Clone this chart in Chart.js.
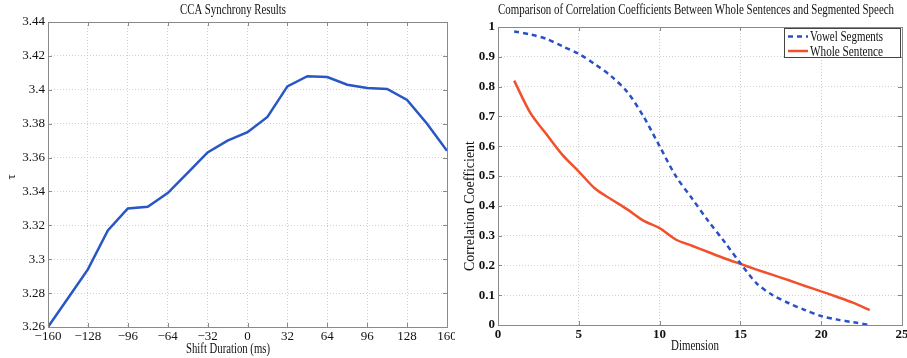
<!DOCTYPE html>
<html>
<head>
<meta charset="utf-8">
<script src="https://cdn.jsdelivr.net/npm/chart.js@4/dist/chart.umd.min.js"></script>
<style>
  html, body { margin: 0; padding: 0; background: #fff; }
  #wrap { position: relative; width: 907px; height: 358px; }
  .box { position: absolute; top: 0; height: 358px; }
  #b1 { left: 0; width: 455px; }
  #b2 { left: 455px; width: 452px; }
</style>
</head>
<body>
<div id="wrap">
  <div class="box" id="b1"><canvas id="c1"></canvas></div>
  <div class="box" id="b2"><canvas id="c2"></canvas></div>
</div>
<script>
// left chart: CCA synchrony vs shift duration
var shiftMs = [-160, -144, -128, -112, -96, -80, -64, -48, -32, -16, 0, 16, 32, 48, 64, 80, 96, 112, 128, 144, 160];
var tauVals = [3.260, 3.277, 3.294, 3.317, 3.330, 3.331, 3.339, 3.351, 3.363, 3.370, 3.375, 3.384, 3.402, 3.408, 3.4075, 3.403, 3.401, 3.4005, 3.394, 3.380, 3.364];
var shiftTicks = [-160, -128, -96, -64, -32, 0, 32, 64, 96, 128, 160];
var tauTicks = [3.26, 3.28, 3.30, 3.32, 3.34, 3.36, 3.38, 3.40, 3.42, 3.44];

// right chart: correlation coefficient vs dimension
var dims = [1, 2, 3, 4, 5, 6, 7, 8, 9, 10, 11, 12, 13, 14, 15, 16, 17, 18, 19, 20, 21, 22, 23];
var vowelVals = [0.985, 0.975, 0.96, 0.935, 0.91, 0.875, 0.835, 0.782, 0.70, 0.60, 0.50, 0.425, 0.35, 0.28, 0.207, 0.14, 0.10, 0.073, 0.05, 0.03, 0.018, 0.009, 0.0];
var wholeVals = [0.82, 0.712, 0.64, 0.57, 0.515, 0.458, 0.422, 0.388, 0.35, 0.325, 0.287, 0.266, 0.245, 0.224, 0.205, 0.186, 0.168, 0.15, 0.131, 0.113, 0.094, 0.074, 0.05];
var dimTicks = [0, 5, 10, 15, 20, 25];
var corrTicks = [0, 0.1, 0.2, 0.3, 0.4, 0.5, 0.6, 0.7, 0.8, 0.9, 1];

var serif = '"Liberation Serif", "DejaVu Serif", serif';
var gridColor = '#d0d0d0';
var frameColor = '#8a8a8a';

function toPts(xs, ys) {
  var out = [];
  for (var i = 0; i < xs.length; i++) out.push({x: xs[i], y: ys[i]});
  return out;
}
function fmt(v) {
  var s = String(+v.toFixed(2));
  return s.replace('-', '\u2212');
}

// draws frame, titles, axis labels and legend
var decor = {
  id: 'decor',
  afterDraw: function (chart) {
    var o = chart.options.plugins.decor;
    var ctx = chart.ctx, a = chart.chartArea;
    ctx.save();
    ctx.strokeStyle = frameColor;
    ctx.lineWidth = 1;
    ctx.strokeRect(Math.round(a.left) + 0.5, Math.round(a.top) + 0.5, Math.round(a.right - a.left), Math.round(a.bottom - a.top));
    // small inward tick marks on the frame
    var xs = chart.scales.x, ys = chart.scales.y;
    ctx.beginPath();
    xs.ticks.forEach(function (t) {
      var px = Math.round(xs.getPixelForValue(t.value)) + 0.5;
      ctx.moveTo(px, a.bottom); ctx.lineTo(px, a.bottom - 4);
      ctx.moveTo(px, a.top); ctx.lineTo(px, a.top + 4);
    });
    ys.ticks.forEach(function (t) {
      var py = Math.round(ys.getPixelForValue(t.value)) + 0.5;
      ctx.moveTo(a.left, py); ctx.lineTo(a.left + 4, py);
      ctx.moveTo(a.right, py); ctx.lineTo(a.right - 4, py);
    });
    ctx.stroke();

    ctx.fillStyle = '#111';
    ctx.textAlign = 'center';
    ctx.textBaseline = 'middle';
    ctx.font = o.titleFont;
    ctx.fillText(o.title, o.titleX, o.titleY, o.titleMax);
    ctx.font = o.xFont;
    ctx.fillText(o.xTitle, o.xTitleX, o.xTitleY, o.xMax);
    ctx.save();
    ctx.translate(o.yTitleX, o.yTitleY);
    ctx.rotate(-Math.PI / 2);
    ctx.font = o.yFont;
    ctx.fillText(o.yTitle, 0, 0, o.yMax);
    ctx.restore();

    if (o.legend) {
      var L = o.legend;
      ctx.fillStyle = '#fff';
      ctx.fillRect(L.x, L.y, L.w, L.h);
      ctx.strokeStyle = '#444';
      ctx.strokeRect(L.x + 0.5, L.y + 0.5, L.w, L.h);
      ctx.textAlign = 'left';
      ctx.font = L.font;
      chart.data.datasets.forEach(function (ds, i) {
        var ly = L.y + 8.5 + i * 14.5;
        ctx.beginPath();
        ctx.strokeStyle = ds.borderColor;
        ctx.lineWidth = 2.5;
        ctx.setLineDash(ds.borderDash || []);
        ctx.moveTo(L.x + 4, ly); ctx.lineTo(L.x + 24, ly);
        ctx.stroke();
        ctx.setLineDash([]);
        ctx.fillStyle = '#111';
        ctx.fillText(ds.label, L.x + 26, ly + 1, L.textMax);
      });
    }
    ctx.restore();
  }
};

function axis(min, max, ticks, w, h, bold, isX) {
  return {
    type: 'linear',
    min: min, max: max,
    afterBuildTicks: function (s) { s.ticks = ticks.map(function (v) { return {value: v}; }); },
    afterFit: function (s) {
      if (isX) s.height = h; else s.width = w;
      s.paddingLeft = 0; s.paddingRight = 0; s.paddingTop = 0; s.paddingBottom = 0;
    },
    grid: { color: gridColor, lineWidth: 1, drawTicks: false },
    border: { display: false, dash: [1, 2] },
    ticks: {
      color: '#111',
      padding: isX ? 2 : 3,
      maxRotation: 0,
      autoSkip: false,
      font: { family: serif, size: 13, weight: bold ? 'bold' : 'normal' },
      callback: function (v) { return fmt(v); }
    }
  };
}

new Chart(document.getElementById('c1'), {
  type: 'line',
  data: {
    datasets: [{
      label: 'tau',
      data: toPts(shiftMs, tauVals),
      borderColor: '#2856c4',
      borderWidth: 2.5,
      pointRadius: 0,
      tension: 0,
      fill: false
    }]
  },
  options: {
    responsive: true,
    maintainAspectRatio: false,
    animation: false,
    layout: { padding: { left: 0, right: 8, top: 22, bottom: 0 } },
    plugins: {
      legend: { display: false },
      tooltip: { enabled: false },
      decor: {
        title: 'CCA Synchrony Results', titleX: 233, titleY: 10, titleMax: 106,
        titleFont: '14px ' + serif,
        xTitle: 'Shift Duration (ms)', xTitleX: 228, xTitleY: 349, xMax: 84, xFont: '14px ' + serif,
        yTitle: '\u03c4', yTitleX: 12, yTitleY: 177, yMax: 20, yFont: '13px ' + serif
      }
    },
    scales: {
      x: axis(-160, 160, shiftTicks, 0, 31, false, true),
      y: axis(3.26, 3.44, tauTicks, 48, 0, false, false)
    }
  },
  plugins: [decor]
});

new Chart(document.getElementById('c2'), {
  type: 'line',
  data: {
    datasets: [{
      label: 'Vowel Segments',
      data: toPts(dims, vowelVals),
      borderColor: '#2a50c8',
      borderWidth: 2.5,
      borderDash: [5, 4],
      pointRadius: 0,
      tension: 0.3,
      fill: false
    }, {
      label: 'Whole Sentence',
      data: toPts(dims, wholeVals),
      borderColor: '#f2502c',
      borderWidth: 2.5,
      pointRadius: 0,
      tension: 0.3,
      fill: false
    }]
  },
  options: {
    responsive: true,
    maintainAspectRatio: false,
    animation: false,
    layout: { padding: { left: 0, right: 5, top: 27, bottom: 0 } },
    plugins: {
      legend: { display: false },
      tooltip: { enabled: false },
      decor: {
        title: 'Comparison of Correlation Coefficients Between Whole Sentences and Segmented Speech',
        titleX: 241, titleY: 10, titleMax: 396,
        titleFont: '15px ' + serif,
        xTitle: 'Dimension', xTitleX: 240, xTitleY: 346, xMax: 48, xFont: '14px ' + serif,
        yTitle: 'Correlation Coefficient', yTitleX: 15, yTitleY: 206, yMax: 132, yFont: '14px ' + serif,
        legend: { x: 329, y: 28, w: 116, h: 29, textMax: 73, font: '14px ' + serif }
      }
    },
    scales: {
      x: axis(0, 25, dimTicks, 0, 33, true, true),
      y: axis(0, 1, corrTicks, 43, 0, true, false)
    }
  },
  plugins: [decor]
});
</script>
</body>
</html>
